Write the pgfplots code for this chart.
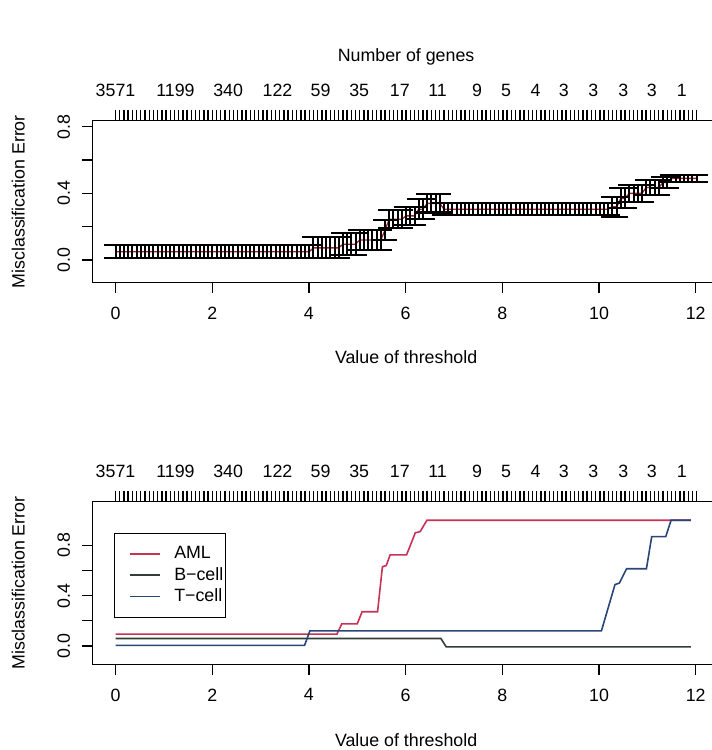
\documentclass[border=0pt]{standalone}
\usepackage{fontspec}
\setmainfont{Liberation Sans}
\usepackage{pgfplots}
\pgfplotsset{compat=1.18}
\usepackage{pgfplotstable}

\definecolor{amlc}{RGB}{200,50,85}
\definecolor{bcellc}{RGB}{50,62,55}
\definecolor{tcellc}{RGB}{40,70,120}
\definecolor{cvred}{RGB}{160,35,50}

% cross-validated error (threshold, error, half-width of error bar)
\pgfplotstableread[row sep=\\]{
x y h\\
0 0.05 0.038\\ 0.0871 0.05 0.038\\ 0.1742 0.05 0.038\\ 0.2613 0.05 0.038\\ 0.3484 0.05 0.038\\
0.4355 0.05 0.038\\ 0.5226 0.05 0.038\\ 0.6097 0.05 0.038\\ 0.6968 0.05 0.038\\ 0.7839 0.05 0.038\\
0.871 0.05 0.038\\ 0.9581 0.05 0.038\\ 1.0452 0.05 0.038\\ 1.1323 0.05 0.038\\ 1.2194 0.05 0.038\\
1.3065 0.05 0.038\\ 1.3936 0.05 0.038\\ 1.4807 0.05 0.038\\ 1.5678 0.05 0.038\\ 1.6549 0.05 0.038\\
1.742 0.05 0.038\\ 1.8291 0.05 0.038\\ 1.9162 0.05 0.038\\ 2.0033 0.05 0.038\\ 2.0904 0.05 0.038\\
2.1775 0.05 0.038\\ 2.2646 0.05 0.038\\ 2.3517 0.05 0.038\\ 2.4388 0.05 0.038\\ 2.5259 0.05 0.038\\
2.613 0.05 0.038\\ 2.7001 0.05 0.038\\ 2.7872 0.05 0.038\\ 2.8743 0.05 0.038\\ 2.9614 0.05 0.038\\
3.0485 0.05 0.038\\ 3.1356 0.05 0.038\\ 3.2227 0.05 0.038\\ 3.3098 0.05 0.038\\ 3.3969 0.05 0.038\\
3.484 0.05 0.038\\ 3.5711 0.05 0.038\\ 3.6582 0.05 0.038\\ 3.7453 0.05 0.038\\ 3.8324 0.05 0.038\\
3.9195 0.05 0.038\\ 4.0066 0.05 0.038\\
4.0937 0.073 0.063\\ 4.1808 0.073 0.063\\ 4.2679 0.073 0.063\\ 4.355 0.073 0.063\\ 4.4421 0.073 0.063\\
4.5292 0.073 0.063\\ 4.6163 0.073 0.063\\
4.7034 0.095 0.065\\ 4.7905 0.095 0.065\\ 4.8776 0.095 0.065\\ 4.9647 0.095 0.065\\
5.0518 0.12 0.062\\ 5.1389 0.12 0.062\\ 5.226 0.12 0.062\\ 5.3131 0.12 0.062\\ 5.4002 0.12 0.062\\ 5.4873 0.12 0.062\\
5.5744 0.18 0.06\\
5.6615 0.245 0.055\\ 5.7486 0.245 0.055\\ 5.8357 0.245 0.055\\ 5.9228 0.245 0.055\\
6.0099 0.265 0.055\\ 6.097 0.265 0.055\\ 6.1841 0.265 0.055\\
6.2712 0.305 0.06\\ 6.3583 0.305 0.06\\
6.4454 0.34 0.055\\ 6.5325 0.34 0.055\\ 6.6196 0.34 0.055\\ 6.7067 0.34 0.055\\
6.7938 0.305 0.037\\ 6.8809 0.305 0.037\\ 6.968 0.305 0.037\\ 7.0551 0.305 0.037\\ 7.1422 0.305 0.037\\
7.2293 0.305 0.037\\ 7.3164 0.305 0.037\\ 7.4035 0.305 0.037\\ 7.4906 0.305 0.037\\ 7.5777 0.305 0.037\\
7.6648 0.305 0.037\\ 7.7519 0.305 0.037\\ 7.839 0.305 0.037\\ 7.9261 0.305 0.037\\ 8.0132 0.305 0.037\\
8.1003 0.305 0.037\\ 8.1874 0.305 0.037\\ 8.2745 0.305 0.037\\ 8.3616 0.305 0.037\\ 8.4487 0.305 0.037\\
8.5358 0.305 0.037\\ 8.6229 0.305 0.037\\ 8.71 0.305 0.037\\ 8.7971 0.305 0.037\\ 8.8842 0.305 0.037\\
8.9713 0.305 0.037\\ 9.0584 0.305 0.037\\ 9.1455 0.305 0.037\\ 9.2326 0.305 0.037\\ 9.3197 0.305 0.037\\
9.4068 0.305 0.037\\ 9.4939 0.305 0.037\\ 9.581 0.305 0.037\\ 9.6681 0.305 0.037\\ 9.7552 0.305 0.037\\
9.8423 0.305 0.037\\ 9.9294 0.305 0.037\\ 10.0165 0.305 0.037\\ 10.1036 0.305 0.037\\ 10.1907 0.305 0.037\\
10.2778 0.32 0.06\\ 10.3649 0.32 0.06\\
10.452 0.37 0.06\\ 10.5391 0.37 0.06\\
10.6262 0.40 0.05\\ 10.7133 0.40 0.05\\ 10.8004 0.40 0.05\\ 10.8875 0.40 0.05\\
10.9746 0.435 0.045\\ 11.0617 0.435 0.045\\ 11.1488 0.435 0.045\\ 11.2359 0.435 0.045\\
11.323 0.465 0.035\\ 11.4101 0.465 0.035\\
11.4972 0.49 0.02\\ 11.5843 0.49 0.02\\ 11.6714 0.49 0.02\\ 11.7585 0.49 0.02\\ 11.8456 0.49 0.02\\
11.9327 0.49 0.02\\ 12.0198 0.49 0.02\\
}\cvtab

\pgfplotsset{
  panel/.style={
    scale only axis, width=627.6pt,
    xmin=-0.48, xmax=12.5,
    axis line style={line width=1.3pt},
    tick style={line width=1.2pt, black},
    tick align=outside, major tick length=10pt,
    xtick={0,2,...,12}, xtick pos=left, ytick pos=left,
    ytick={0,0.2,...,0.8}, yticklabels={0.0,,0.4,,0.8},
    /pgf/number format/assume math mode=true,
    xticklabel style={anchor=north, inner sep=0pt, yshift=-14pt},
    yticklabel style={xshift=-12pt, rotate=90, anchor=south, inner sep=0pt},
    every axis y label/.style={at={(axis description cs:0,0.5)}, xshift=-74pt, rotate=90, anchor=center},
    ylabel={Misclassification Error},
    xlabel={Value of threshold},
  },
  genes/.style={
    scale only axis, width=627.6pt,
    xmin=-0.48, xmax=12.5, ymin=0, ymax=1,
    axis x line*=top, axis y line=none,
    axis line style={line width=1.3pt},
    tick align=outside, major tick length=11pt,
    tick style={line width=1.4pt, black},
    xtick={0,0.0871,...,12.03}, xticklabels={},
    extra x ticks={0,1.24,2.33,3.35,4.24,5.04,5.88,6.66,7.48,8.08,8.69,9.27,9.88,10.5,11.09,11.71},
    extra x tick labels={3571,1199,340,122,59,35,17,11,9,5,4,3,3,3,3,1},
    extra x tick style={major tick length=0pt, tick style={draw=none}},
    xticklabel style={anchor=south, inner sep=0pt, yshift=24pt},
  },
}

\begin{document}
\fontsize{17.8pt}{21pt}\selectfont
\begin{tikzpicture}
% ---------- top panel ----------
\begin{axis}[panel, at={(92.3pt,467.3pt)}, anchor=south west, height=162pt,
  ymin=-0.136, ymax=0.836,
  every axis x label/.style={at={(axis description cs:0.5,0)}, yshift=-74pt, anchor=center},
  title={Number of genes},
  every axis title/.style={at={(axis description cs:0.5,1)}, yshift=64pt, anchor=center},
]
\addplot[cvred, line width=1.3pt] table[x=x, y=y] {\cvtab};
\addplot[draw=none, mark=none,
  error bars/.cd, y dir=both, y explicit,
  error mark=|,
  error bar style={draw=black, solid, line width=2pt},
  error mark options={draw=black, solid, line width=2.2pt, mark size=11.6pt}]
  table[x=x, y=y, y error=h] {\cvtab};
\end{axis}
\begin{axis}[genes, at={(92.3pt,467.3pt)}, anchor=south west, height=162pt]
\end{axis}

% ---------- bottom panel ----------
\begin{axis}[panel, at={(92.3pt,85.5pt)}, anchor=south west, height=162.8pt,
  ymin=-0.148, ymax=1.148,
  every axis x label/.style={at={(axis description cs:0.5,0)}, yshift=-76pt, anchor=center},
  legend style={at={(axis description cs:0.0346,0.81)}, anchor=north west,
    draw=black, line width=1.3pt, fill=white,
    inner xsep=2pt, inner ysep=10pt, column sep=0pt, row sep=0pt,
    nodes={inner xsep=0pt, inner ysep=3pt}},
  legend cell align=left,
  legend image code/.code={\path (0pt,0pt) (56pt,0pt); \draw[#1, line width=1.6pt] (13pt,0pt) -- (43pt,0pt);},
]
\addplot[amlc, line width=1.6pt] coordinates {
  (0,0.094) (4.58,0.094) (4.68,0.176) (5.0,0.176) (5.1,0.272) (5.42,0.272)
  (5.52,0.63) (5.6,0.64) (5.68,0.725) (6.02,0.725) (6.2,0.90) (6.3,0.91)
  (6.44,1.0) (11.9,1.0)};
\addlegendentry{AML}
\addplot[bcellc, line width=1.6pt] coordinates {
  (0,0.059) (6.73,0.059) (6.84,-0.008) (11.9,-0.008)};
\addlegendentry{B−cell}
\addplot[tcellc, line width=1.6pt] coordinates {
  (0,0.004) (3.91,0.004) (4.02,0.12) (10.05,0.12) (10.33,0.488) (10.42,0.50)
  (10.57,0.614) (10.98,0.614) (11.09,0.87) (11.38,0.87) (11.49,1.0) (11.9,1.0)};
\addlegendentry{T−cell}
\end{axis}
\begin{axis}[genes, at={(92.3pt,85.5pt)}, anchor=south west, height=162.8pt]
\end{axis}

\pgfresetboundingbox
\path[use as bounding box] (0pt,0pt) rectangle (712pt,750pt);
\end{tikzpicture}
\end{document}
